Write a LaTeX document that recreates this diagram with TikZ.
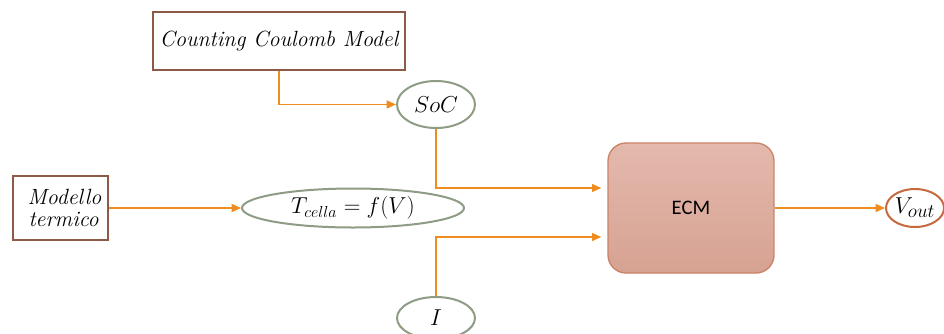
\documentclass[tikz,border=0pt]{standalone}
\usepackage{fontspec}
\newfontfamily\calibrifont{Carlito}
\usetikzlibrary{shapes.geometric,arrows.meta,calc}
\definecolor{boxbrown}{HTML}{8C5A46}
\definecolor{ovalgrey}{HTML}{8E9C84}
\definecolor{flow}{HTML}{EE8C1F}
\definecolor{outring}{HTML}{C46A3E}
\definecolor{ecmedge}{HTML}{CC8266}
\definecolor{ecmtop}{HTML}{E4B9AD}
\definecolor{ecmbot}{HTML}{D6A292}
\tikzset{
  blockbox/.style={draw=boxbrown, line width=1.5pt, fill=white, inner sep=0pt,
    font=\fontsize{16.5}{17}\selectfont\itshape},
  oval/.style={ellipse, draw=ovalgrey, line width=1.5pt, fill=white, inner sep=0pt,
    font=\fontsize{17}{20}\selectfont},
  flowarrow/.style={draw=flow, line width=1pt, -{Triangle[length=7pt,width=6pt]}},
}
\begin{document}
\begin{tikzpicture}[x=0.75pt, y=-0.75pt]
\useasboundingbox (0,0) rectangle (944,333);

% model blocks
\node[blockbox, minimum width=252*0.75pt, minimum height=58*0.75pt] (ccm) at (279,41) {Counting Coulomb Model};
\node[blockbox, minimum width=95*0.75pt, minimum height=64*0.75pt, align=right] (term) at (60.5,208) {\hspace*{6pt}Modello\\termico\hspace*{2pt}};

% state variables
\node[oval, minimum width=78*0.75pt, minimum height=47*0.75pt] (soc) at (436,104.5) {$SoC$};
\node[oval, minimum width=222*0.75pt, minimum height=39*0.75pt] (tc) at (353,208) {$T_{cella} = f(V)$};
\node[oval, minimum width=78*0.75pt, minimum height=42*0.75pt] (cur) at (436,318) {$I$};

% equivalent circuit model
\node[draw=ecmedge, line width=1pt, rounded corners=18*0.75pt, top color=ecmtop, bottom color=ecmbot,
  minimum width=166*0.75pt, minimum height=130*0.75pt, font=\calibrifont\fontsize{15.5}{18}\selectfont] (ecm) at (691,208) {ECM};

% output
\node[oval, draw=outring, minimum width=58*0.75pt, minimum height=38*0.75pt,
  font=\fontsize{19}{22}\selectfont] (vout) at (915,208) {$V_{out}$};

% inputs of the ECM
\coordinate (in1) at ($(ecm.west)+(-6,-20)$);
\coordinate (in2) at ($(ecm.west)+(-6,29)$);

% connectors
\draw[flowarrow] (ccm.south) |- (soc.west);
\draw[flowarrow] (term.east) -- (tc.west);
\draw[flowarrow] (soc.south) |- (in1);
\draw[flowarrow] (cur.north) |- (in2);
\draw[flowarrow] (ecm.east) -- (vout.west);
\end{tikzpicture}
\end{document}
